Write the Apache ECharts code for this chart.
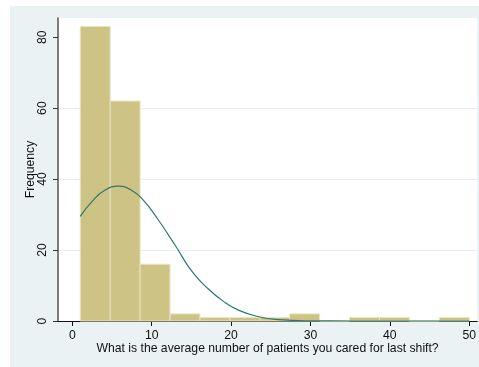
<!DOCTYPE html>
<html>
<head>
<meta charset="utf-8">
<script src="https://cdn.jsdelivr.net/npm/echarts@6/dist/echarts.min.js"></script>
<style>
  html, body { margin: 0; padding: 0; background: #fff; }
  #main { width: 479px; height: 367px; }
</style>
</head>
<body>
<div id="main"></div>
<script>
// histogram bins (edges) and frequencies
const binEdges = [1, 4.77, 8.54, 12.31, 16.08, 19.85, 23.62, 27.38, 31.15, 34.92, 38.69, 42.46, 46.23, 50];
const counts = [83, 62, 16, 2, 1, 1, 1, 2, 0, 1, 1, 0, 1];

// normal curve
const curveX = [1, 2.5, 4, 5.8, 7.5, 9, 10.8, 13, 15, 17, 19, 21, 23.5, 26, 30, 35, 40, 45, 50];
const curveY = [29.5, 33.7, 36.7, 38, 36.8, 33.9, 28.6, 21.2, 14.2, 9.3, 5.6, 3.0, 1.2, 0.4, 0.06, 0, 0, 0, 0];

const xTicks = [0, 10, 20, 30, 40, 50];
const yTicks = [0, 20, 40, 60, 80];

const font = "'Liberation Sans', Arial, sans-serif";
const chart = echarts.init(document.getElementById('main'));

const barData = counts.map((c, i) => [binEdges[i], binEdges[i + 1], c]);
const curveData = curveX.map((x, i) => [x, curveY[i]]);

const option = {
  animation: false,
  textStyle: { fontFamily: font },
  graphic: [{
    type: 'rect',
    left: 10, top: 6,
    shape: { width: 469, height: 361 },
    style: { fill: '#eaf2f3' },
    z: -10
  }],
  grid: {
    left: 58, right: 1, top: 18, bottom: 46,
    show: true, backgroundColor: '#fff', borderWidth: 0
  },
  xAxis: {
    type: 'value',
    min: -1.8, max: 51,
    name: 'What is the average number of patients you cared for last shift?',
    nameLocation: 'middle',
    nameGap: 22,
    nameMoveOverlap: false,
    nameTextStyle: { fontSize: 12.2, color: '#111', fontFamily: font },
    axisLine: { show: true, lineStyle: { color: '#111', width: 1.2 } },
    axisTick: { show: true, length: 5, customValues: xTicks, lineStyle: { color: '#111' } },
    axisLabel: { customValues: xTicks, margin: 9, fontSize: 12.2, color: '#111', fontFamily: font },
    splitLine: { show: false }
  },
  yAxis: {
    type: 'value',
    min: 0, max: 85.4, interval: 20,
    name: 'Frequency',
    nameLocation: 'middle',
    nameGap: 21,
    nameMoveOverlap: false,
    nameTextStyle: { fontSize: 12.2, color: '#111', fontFamily: font },
    axisLine: { show: true, onZero: false, lineStyle: { color: '#555', width: 1.5 } },
    axisTick: { show: true, length: 5, customValues: yTicks, lineStyle: { color: '#333' } },
    axisLabel: { customValues: yTicks, rotate: 90, margin: 9, fontSize: 12.2, color: '#111', fontFamily: font },
    splitLine: { show: true, showMaxLine: false, lineStyle: { color: '#e6eff0', width: 1 } }
  },
  series: [{
    type: 'custom',
    data: barData,
    encode: { x: [0, 1], y: 2 },
    renderItem: function (params, api) {
      const p0 = api.coord([api.value(0), api.value(2)]);
      const p1 = api.coord([api.value(1), 0]);
      return {
        type: 'rect',
        shape: { x: p0[0], y: p0[1], width: p1[0] - p0[0], height: p1[1] - p0[1] },
        style: { fill: '#cdc385', stroke: '#e9e4c2', lineWidth: 1 }
      };
    },
    z: 2
  }, {
    type: 'line',
    data: curveData,
    smooth: true,
    showSymbol: false,
    lineStyle: { color: '#2b7a72', width: 1.2 },
    z: 3
  }]
};

chart.setOption(option);
</script>
</body>
</html>
